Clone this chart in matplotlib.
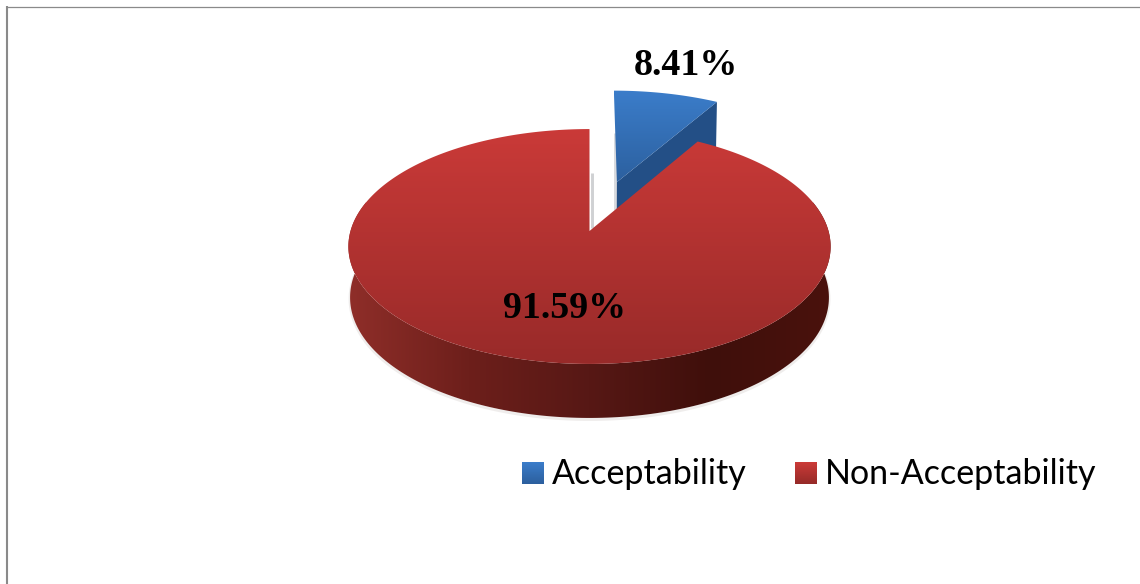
import numpy as np
import matplotlib
matplotlib.use('Agg')
import matplotlib.pyplot as plt
from matplotlib.colors import LinearSegmentedColormap
from matplotlib.patches import Polygon

labels = ['Acceptability', 'Non-Acceptability']
values = [8.41, 91.59]
pct_labels = ['8.41%', '91.59%']

W, H = 1140, 584
fig = plt.figure(figsize=(W / 100, H / 100), dpi=100)
ax = fig.add_axes([0, 0, 1, 1])
ax.set_xlim(0, W)
ax.set_ylim(H, 0)
ax.axis('off')

# perspective pie, angles clockwise from the top
cx, cy = 589.5, 231
a, b, k = 239, 115.4, 0.132
explode = 0.465

def project(theta, r=1.0, off=0.0, mid=0.0, drop=False):
    u = r * np.sin(theta) + off * np.sin(mid)
    v = r * np.cos(theta) + off * np.cos(mid)
    d = 1 + k * v
    x = a * u / d
    y = cy - b * v / d
    if drop:
        return cx + x * 0.993, y + 50.5 - 3.5 * v
    return cx + x, y

def grad(path_xy, colors, horizontal=False, zorder=2):
    xy = np.column_stack(path_xy)
    x0, y0 = xy.min(axis=0)
    x1, y1 = xy.max(axis=0)
    cmap = LinearSegmentedColormap.from_list('g', colors)
    ramp = np.linspace(0, 1, 256)
    img = ramp.reshape(1, -1) if horizontal else ramp.reshape(-1, 1)
    im = ax.imshow(img, cmap=cmap, extent=[x0, x1, y1, y0], aspect='auto', zorder=zorder, vmin=0, vmax=1)
    clip = Polygon(xy, closed=True, transform=ax.transData, fc='none', ec='none')
    ax.add_patch(clip)
    im.set_clip_path(clip)

fractions = np.array(values) / sum(values) * 2 * np.pi
blue_end = fractions[0]
mid = blue_end / 2

# blue slice: walls then top
t = np.linspace(0, blue_end, 60)
tx, ty = project(t, off=explode, mid=mid)
apex_x, apex_y = project(0.0, r=0.0, off=explode, mid=mid)
bx, by = project(t, off=explode, mid=mid, drop=True)
abx, aby = project(0.0, r=0.0, off=explode, mid=mid, drop=True)
ax.fill([apex_x, tx[-1], bx[-1], abx], [apex_y, ty[-1], by[-1], aby], color='#234f86', lw=0, zorder=2)
grad((np.r_[apex_x, tx], np.r_[apex_y, ty]), ['#3b7dca', '#2c609f'], zorder=3)

# grey cut walls seen through the gap
ax.plot([apex_x - 1.5, apex_x - 1.5], [133, 210], color='#d8dade', lw=2.1, zorder=1.5, solid_capstyle='butt')
ax.plot([cx + 2, cx + 2], [173, 228], color='#cfd1d3', lw=2.1, zorder=1.5, solid_capstyle='butt')

# red side wall
t_wall = np.linspace(np.radians(75), np.radians(285), 200)
wx_top, wy_top = project(t_wall)
wx_bot, wy_bot = project(t_wall, drop=True)
ax.plot(wx_bot, wy_bot + 1.5, color='#ddd8d6', lw=2.2, zorder=3.5, alpha=0.45)
wall = (np.r_[wx_bot, wx_top[::-1]], np.r_[wy_bot, wy_top[::-1]])
grad(wall, ['#8f2e29', '#6d1f1b', '#571815', '#3f0f0b', '#4a120d'], horizontal=True, zorder=4)

# red top
t = np.linspace(blue_end, 2 * np.pi, 400)
rx, ry = project(t)
grad((np.r_[cx, rx], np.r_[cy, ry]), ['#ca3a38', '#982a29'], zorder=5)

# data labels
ax.text(686, 75, pct_labels[0], family='Liberation Serif', weight='bold', fontsize=27.4, color='black', ha='center', va='baseline', zorder=6)
ax.text(565, 318, pct_labels[1], family='Liberation Serif', weight='bold', fontsize=27.4, color='black', ha='center', va='baseline', zorder=6)

# legend
swatch_colors = [['#3b7dca', '#2c5f9e'], ['#cc3b38', '#952a28']]
swatch_x = [522, 794.5]
text_x = [552, 825]
for colors, lx, tlx, lab in zip(swatch_colors, swatch_x, text_x, labels):
    grad((np.array([lx, lx + 22, lx + 22, lx]), np.array([462, 462, 484, 484])), colors, zorder=5)
    ax.text(tlx, 484, lab, family='Lato', fontsize=24.5, color='black', ha='left', va='baseline', zorder=6)

# chart frame
ax.plot([7, 7], [6, H], color='#8a8a8a', lw=1.5, zorder=1, solid_capstyle='butt')
ax.plot([6, W], [6.5, 6.5], color='#8a8a8a', lw=0.9, zorder=1, solid_capstyle='butt')

ax.set_xlim(0, W)
ax.set_ylim(H, 0)
fig.savefig('out.png', dpi=100)
